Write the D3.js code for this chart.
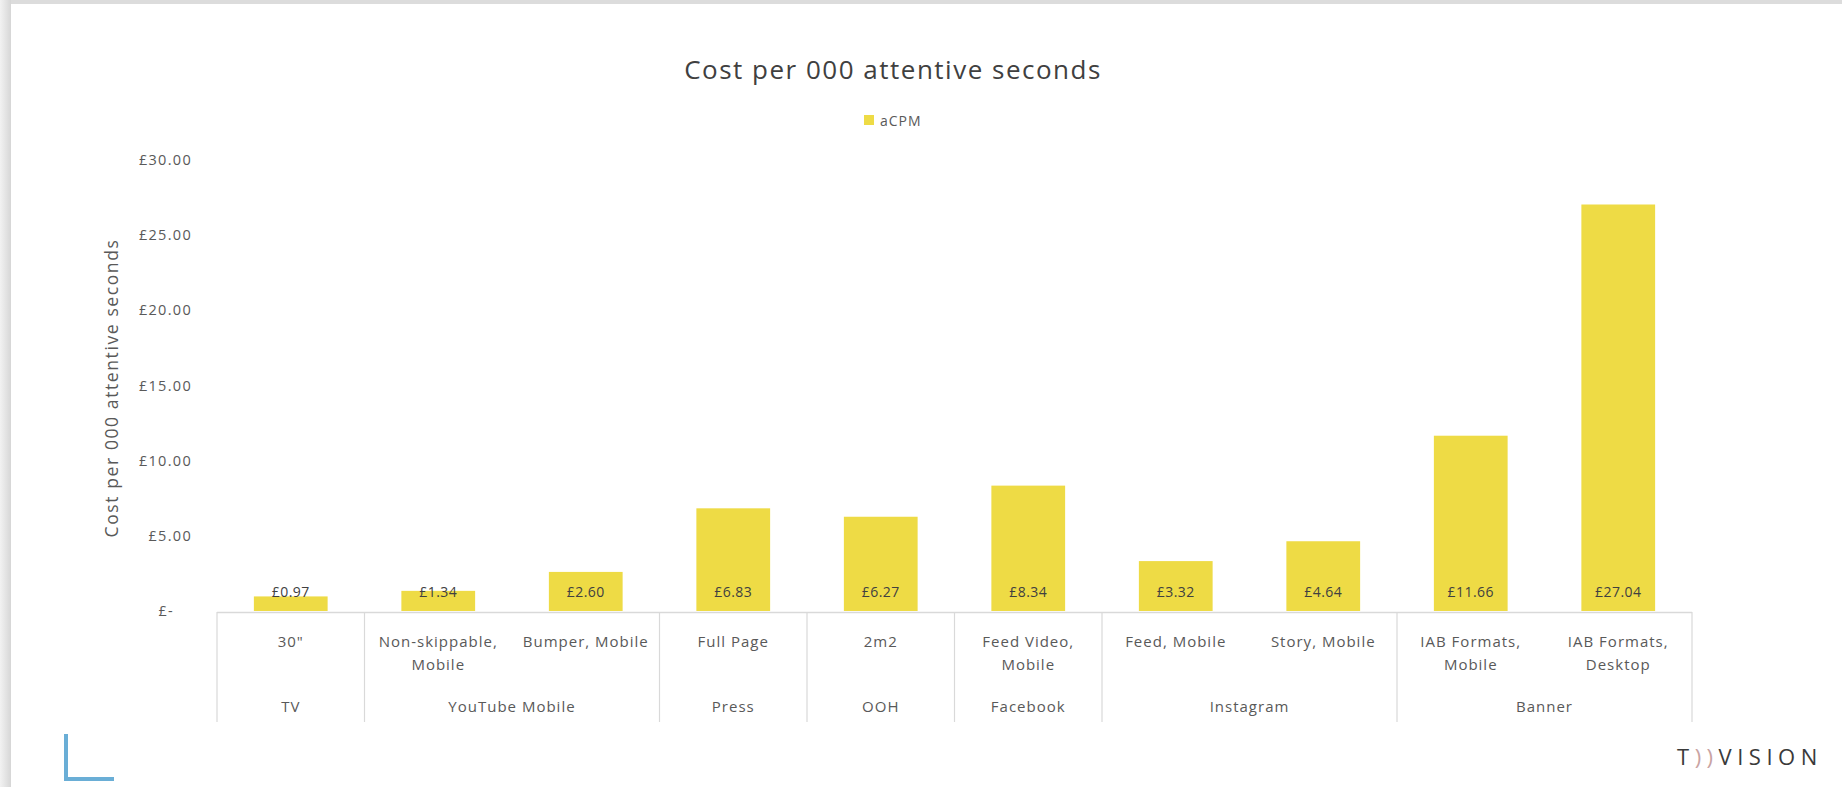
<!DOCTYPE html>
<html>
<head>
<meta charset="utf-8">
<script src="https://cdn.jsdelivr.net/npm/d3@7"></script>
<style>
html,body{margin:0;padding:0;background:#fff;}
svg{display:block;}
text{font-family:"Open Sans","Noto Sans",sans-serif;}
</style>
</head>
<body>
<svg id="chart" width="1842" height="787"></svg>
<script>
const subCategories = ["30\"", "Non-skippable, Mobile", "Bumper, Mobile", "Full Page", "2m2", "Feed Video, Mobile", "Feed, Mobile", "Story, Mobile", "IAB Formats, Mobile", "IAB Formats, Desktop"];
const subLabelLines = [["30\""], ["Non-skippable,", "Mobile"], ["Bumper, Mobile"], ["Full Page"], ["2m2"], ["Feed Video,", "Mobile"], ["Feed, Mobile"], ["Story, Mobile"], ["IAB Formats,", "Mobile"], ["IAB Formats,", "Desktop"]];
const groups = ["TV", "YouTube Mobile", "YouTube Mobile", "Press", "OOH", "Facebook", "Instagram", "Instagram", "Banner", "Banner"];
const acpm = [0.97, 1.34, 2.60, 6.83, 6.27, 8.34, 3.32, 4.64, 11.66, 27.04];
const yTicks = [0, 5, 10, 15, 20, 25, 30];
const seriesName = "aCPM";
const chartTitle = "Cost per 000 attentive seconds";
const yTitle = "Cost per 000 attentive seconds";

(function(){
const svg = d3.select("#chart");
const W = 1842, H = 787;

// slide frame
const defs = svg.append("defs");
const lg = defs.append("linearGradient").attr("id","shadowL").attr("x1","0").attr("x2","1");
lg.append("stop").attr("offset","0").attr("stop-color","#f2f2f2");
lg.append("stop").attr("offset","1").attr("stop-color","#d6d6d6");
svg.append("rect").attr("x",0).attr("y",0).attr("width",W).attr("height",H).attr("fill","#ffffff");
svg.append("rect").attr("x",0).attr("y",0).attr("width",W).attr("height",4).attr("fill","#dcdcdc");
svg.append("rect").attr("x",0).attr("y",0).attr("width",11).attr("height",H).attr("fill","url(#shadowL)");

const pLeft = 217, pRight = 1692, pTop = 160, pBase = 611;
const x = d3.scaleBand().domain(subCategories).range([pLeft, pRight]).paddingInner(0.5).paddingOuter(0.25);
const y = d3.scaleLinear().domain([0, 30]).range([pBase, pTop]);
const color = "#EEDB45";

// title
svg.append("text").attr("x", 893).attr("y", 79).attr("text-anchor","middle")
  .attr("font-size", 26).attr("fill","#404040").attr("letter-spacing", 1.5).text(chartTitle);

// legend
svg.append("rect").attr("x", 864).attr("y", 115).attr("width", 10).attr("height", 10).attr("fill", color);
svg.append("text").attr("x", 880).attr("y", 125.5).attr("font-size", 14).attr("letter-spacing", 1)
  .attr("fill","#595959").text(seriesName);

// y axis (labels only)
const yAxis = d3.axisLeft(y).tickValues(yTicks).tickSize(0).tickPadding(0)
  .tickFormat(d => d === 0 ? "£-" : "£" + d3.format(".2f")(d));
const gy = svg.append("g").attr("transform", "translate(192,0)").call(yAxis);
gy.select(".domain").remove();
gy.selectAll("text").attr("font-size", 14.5).attr("fill", "#595959")
  .attr("letter-spacing", 1.3)
  .attr("font-family", "'Open Sans','Noto Sans',sans-serif")
  .attr("dx", d => d === 0 ? -18 : 0);

// y title
svg.append("text").attr("transform", "translate(118,388) rotate(-90)").attr("text-anchor","middle")
  .attr("font-size", 17.5).attr("letter-spacing", 1.6).attr("fill","#595959").text(yTitle);

// bars
svg.append("g").selectAll("rect").data(acpm).join("rect")
  .attr("x", (d,i) => x(subCategories[i]))
  .attr("width", x.bandwidth())
  .attr("y", d => y(d))
  .attr("height", d => y(0) - y(d))
  .attr("fill", color);

// data labels (inside base)
svg.append("g").selectAll("text").data(acpm).join("text")
  .attr("x", (d,i) => x(subCategories[i]) + x.bandwidth()/2)
  .attr("y", y(0) - 14)
  .attr("text-anchor","middle").attr("font-size", 14).attr("letter-spacing", 0.5).attr("fill","#404040")
  .text(d => "£" + d3.format(".2f")(d));

// category axis
const axisColor = "#d9d9d9";
svg.append("line").attr("x1", pLeft).attr("x2", pRight).attr("y1", pBase + 1.5).attr("y2", pBase + 1.5)
  .attr("stroke", axisColor).attr("stroke-width", 1.5);

// group boundaries
const step = x.step();
const groupSpans = [];
groups.forEach((g, i) => {
  if (groupSpans.length && groupSpans[groupSpans.length-1].name === g) groupSpans[groupSpans.length-1].end = i;
  else groupSpans.push({name: g, start: i, end: i});
});
const edge = i => pLeft + i * step;
const boundaries = [0].concat(groupSpans.map(s => s.end + 1));
svg.append("g").selectAll("line").data(boundaries).join("line")
  .attr("x1", d => edge(d)).attr("x2", d => edge(d))
  .attr("y1", pBase + 1).attr("y2", 722)
  .attr("stroke", axisColor).attr("stroke-width", 1.2);

// sub-category labels
const subG = svg.append("g");
subLabelLines.forEach((lines, i) => {
  const cx = x(subCategories[i]) + x.bandwidth()/2;
  const t = subG.append("text").attr("x", cx).attr("y", 647)
    .attr("text-anchor","middle").attr("font-size", 15).attr("letter-spacing", 1).attr("fill","#595959");
  lines.forEach((ln, k) => t.append("tspan").attr("x", cx).attr("dy", k === 0 ? 0 : 23).text(ln));
});

// group labels
svg.append("g").selectAll("text").data(groupSpans).join("text")
  .attr("x", d => (edge(d.start) + edge(d.end + 1)) / 2)
  .attr("y", 712).attr("text-anchor","middle").attr("font-size", 15).attr("letter-spacing", 1)
  .attr("fill","#595959")
  .text(d => d.name);

// decorative blue bracket bottom-left
svg.append("path").attr("d", "M66,734 L66,779 L114,779").attr("fill","none")
  .attr("stroke", "#6aaed6").attr("stroke-width", 4);

// brand
const brand = svg.append("text").attr("x", 1677).attr("y", 765).attr("font-size", 22)
  .attr("letter-spacing", 5.5).attr("fill", "#3a3a3a").attr("font-family","'Open Sans',sans-serif");
brand.append("tspan").text("T");
brand.append("tspan").attr("fill","#c9a3a3").text("))");
brand.append("tspan").text("VISION");
})();
</script>
</body>
</html>
